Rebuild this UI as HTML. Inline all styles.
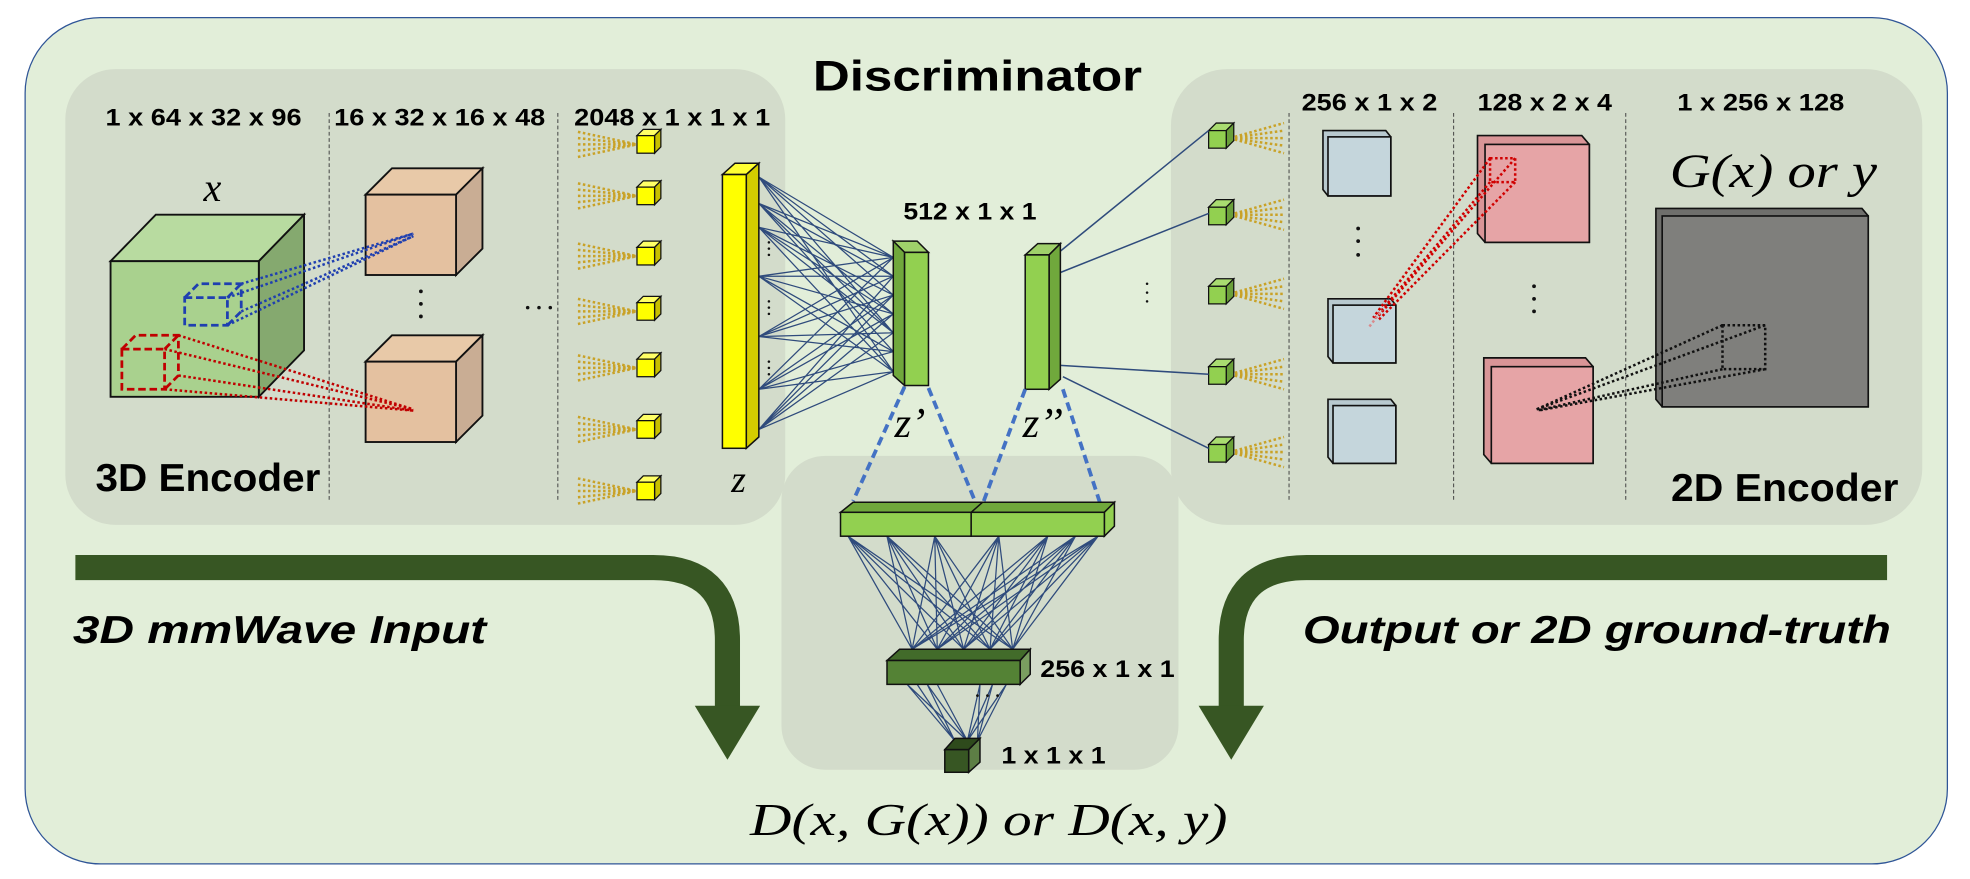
<!DOCTYPE html>
<html><head><meta charset="utf-8"><style>html,body{margin:0;padding:0;background:#fff}svg{display:block}</style></head>
<body>
<svg width="1970" height="879" viewBox="0 0 1568 700" preserveAspectRatio="none" xmlns="http://www.w3.org/2000/svg" xmlns:xlink="http://www.w3.org/1999/xlink" font-family="'Liberation Sans', sans-serif">
<defs>
<g id="yc">
<path d="M-47,-3L0,7M-47,2L0,7M-47,7L0,7M-47,12L0,7M-47,17L0,7" stroke="#c9a227" stroke-width="2" stroke-dasharray="2,2" fill="none"/>
<polygon points="0,0 5,-5 19,-5 14,0" fill="#ffff66" stroke="#111" stroke-width="1"/>
<polygon points="14,0 19,-5 19,9 14,14" fill="#c8c000" stroke="#111" stroke-width="1"/>
<rect x="0" y="0" width="14" height="14" fill="#ffff00" stroke="#111" stroke-width="1"/>
</g>
<g id="gc">
<path d="M17,6L60,-6M17,6L60,0M17,6L60,6M17,6L60,12M17,6L60,18" stroke="#c9a227" stroke-width="2" stroke-dasharray="2,2" fill="none"/>
<polygon points="0,0 6,-6 20,-6 14,0" fill="#a9dc70" stroke="#111" stroke-width="1"/>
<polygon points="14,0 20,-6 20,8 14,14" fill="#6aa03a" stroke="#111" stroke-width="1"/>
<rect x="0" y="0" width="14" height="14" fill="#92d050" stroke="#111" stroke-width="1"/>
</g>
</defs>
<rect x="20" y="14" width="1530" height="674" rx="60" fill="#e2eed9" stroke="#2f5597" stroke-width="1"/>
<rect x="52" y="55" width="573" height="363" rx="40" fill="#d3dccb"/>
<rect x="932" y="55" width="598" height="363" rx="45" fill="#d3dccb"/>
<rect x="622" y="363" width="316" height="250" rx="35" fill="#d3dccb"/>

<text x="778" y="72" font-size="34" font-weight="bold" text-anchor="middle" textLength="262" lengthAdjust="spacingAndGlyphs">Discriminator</text>

<g font-weight="bold" font-size="19">
<text x="84" y="100" textLength="156" lengthAdjust="spacingAndGlyphs">1 x 64 x 32 x 96</text>
<text x="266" y="100" textLength="168" lengthAdjust="spacingAndGlyphs">16 x 32 x 16 x 48</text>
<text x="457" y="100" textLength="156" lengthAdjust="spacingAndGlyphs">2048 x 1 x 1 x 1</text>
<text x="1036" y="88" textLength="108" lengthAdjust="spacingAndGlyphs">256 x 1 x 2</text>
<text x="1176" y="88" textLength="107" lengthAdjust="spacingAndGlyphs">128 x 2 x 4</text>
<text x="1335" y="88" textLength="133" lengthAdjust="spacingAndGlyphs">1 x 256 x 128</text>
<text x="719" y="175" textLength="106" lengthAdjust="spacingAndGlyphs">512 x 1 x 1</text>
<text x="828" y="539" textLength="107" lengthAdjust="spacingAndGlyphs">256 x 1 x 1</text>
<text x="797" y="608" textLength="83" lengthAdjust="spacingAndGlyphs">1 x 1 x 1</text>
</g>
<g font-weight="bold" font-size="31">
<text x="76" y="391" textLength="179" lengthAdjust="spacingAndGlyphs">3D Encoder</text>
<text x="1330" y="399" textLength="181" lengthAdjust="spacingAndGlyphs">2D Encoder</text>
</g>
<g font-weight="bold" font-style="italic" font-size="31">
<text x="58" y="512" textLength="329" lengthAdjust="spacingAndGlyphs">3D mmWave Input</text>
<text x="1037" y="512" textLength="468" lengthAdjust="spacingAndGlyphs">Output or 2D ground-truth</text>
</g>
<g font-family="'Liberation Serif', serif" font-style="italic">
<text x="162" y="160" font-size="32">x</text>
<text x="582" y="392" font-size="30">z</text>
<text x="712" y="348" font-size="34">z’</text>
<text x="814" y="348" font-size="34">z’’</text>
<text x="1329" y="149" font-size="38" textLength="165" lengthAdjust="spacingAndGlyphs">G(x) or y</text>
<text x="597" y="665" font-size="36" textLength="380" lengthAdjust="spacingAndGlyphs">D(x, G(x)) or D(x, y)</text>
</g>

<g stroke="#444" stroke-width="0.8" stroke-dasharray="3,2">
<line x1="262" y1="90" x2="262" y2="400"/><line x1="444" y1="90" x2="444" y2="400"/>
<line x1="1026" y1="90" x2="1026" y2="400"/><line x1="1157" y1="90" x2="1157" y2="400"/><line x1="1294" y1="90" x2="1294" y2="400"/>
</g>

<g stroke="#111" stroke-width="1.5">
<polygon points="88,208 124,171 242,171 206,208" fill="#b8dba0"/>
<polygon points="206,208 242,171 242,279 206,316" fill="#85a96f"/>
<rect x="88" y="208" width="118" height="108" fill="#a9d18e"/>
</g>
<g fill="none" stroke-width="2.2" stroke-dasharray="6,3">
<g stroke="#1f3fb0"><rect x="147" y="237" width="34" height="22"/><polyline points="147,237 158,226 192,226 192,248 181,259"/><line x1="181" y1="237" x2="192" y2="226"/></g>
<g stroke="#c00000"><rect x="97" y="278" width="34" height="32"/><polyline points="97,278 108,267 142,267 142,299 131,310"/><line x1="131" y1="278" x2="142" y2="267"/></g>
</g>
<g stroke="#111" stroke-width="1.5">
<polygon points="291,155 312,134 384,134 363,155" fill="#e8c9a8"/>
<polygon points="363,155 384,134 384,198 363,219" fill="#c9ad94"/>
<rect x="291" y="155" width="72" height="64" fill="#e4c1a0"/>
<polygon points="291,288 312,267 384,267 363,288" fill="#e8c9a8"/>
<polygon points="363,288 384,267 384,331 363,352" fill="#c9ad94"/>
<rect x="291" y="288" width="72" height="64" fill="#e4c1a0"/>
</g>
<g fill="none" stroke-width="2" stroke-dasharray="2,2">
<g stroke="#1f3fb0"><line x1="192" y1="226" x2="329" y2="186"/><line x1="181" y1="237" x2="329" y2="186"/><line x1="192" y1="248" x2="329" y2="188"/><line x1="181" y1="259" x2="329" y2="188"/></g>
<g stroke="#c00000"><line x1="142" y1="267" x2="329" y2="326"/><line x1="131" y1="278" x2="329" y2="326"/><line x1="142" y1="299" x2="329" y2="327"/><line x1="131" y1="310" x2="329" y2="327"/></g>
</g>
<g fill="#111"><circle cx="335" cy="232" r="1.5"/><circle cx="335" cy="242" r="1.5"/><circle cx="335" cy="252" r="1.5"/>
<circle cx="420" cy="245" r="1.4"/><circle cx="429" cy="245" r="1.4"/><circle cx="438" cy="245" r="1.4"/></g>

<use xlink:href="#yc" href="#yc" x="507" y="108"/>
<use xlink:href="#yc" href="#yc" x="507" y="149"/>
<use xlink:href="#yc" href="#yc" x="507" y="197"/>
<use xlink:href="#yc" href="#yc" x="507" y="241"/>
<use xlink:href="#yc" href="#yc" x="507" y="286"/>
<use xlink:href="#yc" href="#yc" x="507" y="335"/>
<use xlink:href="#yc" href="#yc" x="507" y="384"/>

<use xlink:href="#gc" href="#gc" x="962" y="104"/>
<use xlink:href="#gc" href="#gc" x="962" y="165"/>
<use xlink:href="#gc" href="#gc" x="962" y="228"/>
<use xlink:href="#gc" href="#gc" x="962" y="292"/>
<use xlink:href="#gc" href="#gc" x="962" y="354"/>

<!-- bar -> z' lines -->
<path fill="none" stroke="#2f4b7c" stroke-width="1" d="
M604,141L711,205M604,141L711,235M604,141L711,265M604,141L711,296M604,141L711,220
M604,162L711,205M604,162L711,250M604,162L711,280M604,162L711,220M604,162L711,265
M604,181L711,205M604,181L711,235M604,181L711,265M604,181L711,296M604,181L711,250
M604,220L711,205M604,220L711,220M604,220L711,250M604,220L711,280M604,220L711,296
M604,268L711,205M604,268L711,235M604,268L711,265M604,268L711,280M604,268L711,220
M604,310L711,205M604,310L711,235M604,310L711,250M604,310L711,280M604,310L711,296
M604,342L711,220M604,342L711,250M604,342L711,265M604,342L711,296M604,342L711,235"/>
<g fill="#111"><circle cx="612" cy="193" r="1"/><circle cx="612" cy="198" r="1"/><circle cx="612" cy="203" r="1"/>
<circle cx="612" cy="240" r="1"/><circle cx="612" cy="245" r="1"/><circle cx="612" cy="250" r="1"/>
<circle cx="612" cy="288" r="1"/><circle cx="612" cy="293" r="1"/><circle cx="612" cy="298" r="1"/></g>

<path fill="none" stroke="#2f4b7c" stroke-width="1.2" d="M844,200L962,104M844,217L962,170M844,291L962,298M846,300L962,357"/>

<g stroke="#111" stroke-width="1.2">
<polygon points="575,139 585,130 604,130 594,139" fill="#ffff33"/>
<polygon points="594,139 604,130 604,348 594,357" fill="#d4cc00"/>
<rect x="575" y="139" width="19" height="218" fill="#ffff00"/>
<polygon points="711,192 720,201 739,201 730,192" fill="#9fd06a"/>
<polygon points="711,192 720,201 720,307 711,299" fill="#70a83c"/>
<rect x="720" y="201" width="19" height="106" fill="#92d050"/>
<polygon points="816,203 826,194 844,194 835,203" fill="#9fd06a"/>
<polygon points="835,203 844,194 844,302 835,310" fill="#70a83c"/>
<rect x="816" y="203" width="19" height="107" fill="#92d050"/>
</g>
<g stroke="#4472c4" stroke-width="3" stroke-dasharray="7,4" fill="none">
<line x1="720" y1="308" x2="679" y2="399"/><line x1="739" y1="309" x2="776" y2="399"/>
<line x1="816" y1="310" x2="783" y2="399"/><line x1="846" y1="310" x2="877" y2="405"/>
</g>

<!-- concat -> 256 -->
<path fill="none" stroke="#2f4b7c" stroke-width="1" d="
M675,427L726,517M675,427L746,517M675,427L767,517M675,427L788,517M675,427L806,517
M706,427L726,517M706,427L746,517M706,427L767,517M706,427L788,517M706,427L806,517
M744,427L726,517M744,427L746,517M744,427L767,517M744,427L788,517M744,427L806,517
M795,427L726,517M795,427L746,517M795,427L767,517M795,427L788,517M795,427L806,517
M834,427L726,517M834,427L746,517M834,427L767,517M834,427L788,517M834,427L806,517
M856,427L726,517M856,427L746,517M856,427L767,517M856,427L788,517M856,427L806,517
M874,427L726,517M874,427L746,517M874,427L767,517M874,427L788,517M874,427L806,517
M722,545L760,590M730,545L760,590M738,545L770,590M746,545L770,590M722,545L770,590M738,545L760,590
M780,545L778,590M790,545L778,590M801,545L770,590M790,545L770,590M801,545L778,590M780,545L770,590"/>

<g stroke="#111" stroke-width="1.2">
<polygon points="669,408 679,400 887,400 879,408" fill="#70a83c"/>
<polygon points="879,408 887,400 887,419 879,427" fill="#92d050"/>
<rect x="669" y="408" width="104" height="19" fill="#92d050"/>
<rect x="773" y="408" width="106" height="19" fill="#92d050"/>
<line x1="773" y1="408" x2="782" y2="400"/>
<polygon points="706,526 716,517 820,517 812,526" fill="#426b2a"/>
<polygon points="812,526 820,517 820,537 812,545" fill="#7a9e60"/>
<rect x="706" y="526" width="106" height="19" fill="#548235"/>
<polygon points="752,597 760,588 780,588 771,597" fill="#2e4a1c"/>
<polygon points="771,597 780,588 780,607 771,615" fill="#5d7e45"/>
<rect x="752" y="597" width="19" height="18" fill="#375623"/>
</g>
<g fill="#111"><circle cx="778" cy="554" r="1.1"/><circle cx="786" cy="554" r="1.1"/><circle cx="794" cy="554" r="1.1"/></g>

<g stroke="#111" stroke-width="1.3">
<polygon points="1053,104 1103,104 1107,109 1107,156 1057,156 1053,151" fill="#b8c9cf"/><rect x="1057" y="109" width="50" height="47" fill="#c5d6dc"/>
<polygon points="1057,238 1107,238 1111,243 1111,289 1061,289 1057,284" fill="#b8c9cf"/><rect x="1061" y="243" width="50" height="46" fill="#c5d6dc"/>
<polygon points="1057,318 1107,318 1111,323 1111,369 1061,369 1057,364" fill="#b8c9cf"/><rect x="1061" y="323" width="50" height="46" fill="#c5d6dc"/>
<polygon points="1176,108 1259,108 1265,115 1265,193 1182,193 1176,186" fill="#d99597"/><rect x="1182" y="115" width="83" height="78" fill="#e6a4a6"/>
<polygon points="1181,285 1262,285 1268,292 1268,369 1187,369 1181,362" fill="#d99597"/><rect x="1187" y="292" width="81" height="77" fill="#e6a4a6"/>
<polygon points="1318,166 1482,166 1487,172 1487,324 1323,324 1318,318" fill="#6f6f6c"/><rect x="1323" y="172" width="164" height="152" fill="#7f7f7c"/>
</g>
<g fill="#111"><circle cx="1081" cy="182" r="1.5"/><circle cx="1081" cy="192" r="1.5"/><circle cx="1081" cy="203" r="1.5"/>
<circle cx="1221" cy="228" r="1.5"/><circle cx="1221" cy="238" r="1.5"/><circle cx="1221" cy="248" r="1.5"/>
<circle cx="913" cy="226" r="1"/><circle cx="913" cy="233" r="1"/><circle cx="913" cy="240" r="1"/></g>
<g fill="none" stroke-width="2" stroke-dasharray="2,2">
<g stroke="#d00000"><rect x="1186" y="126" width="20" height="19"/><line x1="1186" y1="126" x2="1093" y2="253"/><line x1="1206" y1="126" x2="1096" y2="253"/><line x1="1186" y1="145" x2="1093" y2="255"/><line x1="1206" y1="145" x2="1097" y2="255"/></g>
<g stroke="#d98a8c"><line x1="1090" y1="260" x2="1100" y2="247"/></g>
<g stroke="#111"><rect x="1371" y="259" width="34" height="35"/><line x1="1371" y1="259" x2="1223" y2="326"/><line x1="1405" y1="259" x2="1223" y2="326"/><line x1="1371" y1="294" x2="1223" y2="327"/><line x1="1405" y1="294" x2="1224" y2="327"/></g>
</g>

<g fill="none" stroke="#375623" stroke-width="20">
<path d="M60,452 H520 Q579,452 579,510 V566"/>
<path d="M1502,452 H1040 Q980,452 980,510 V566"/>
</g>
<polygon points="553,562 605,562 579,605" fill="#375623"/>
<polygon points="954,562 1006,562 980,605" fill="#375623"/>
</svg>
</body></html>
